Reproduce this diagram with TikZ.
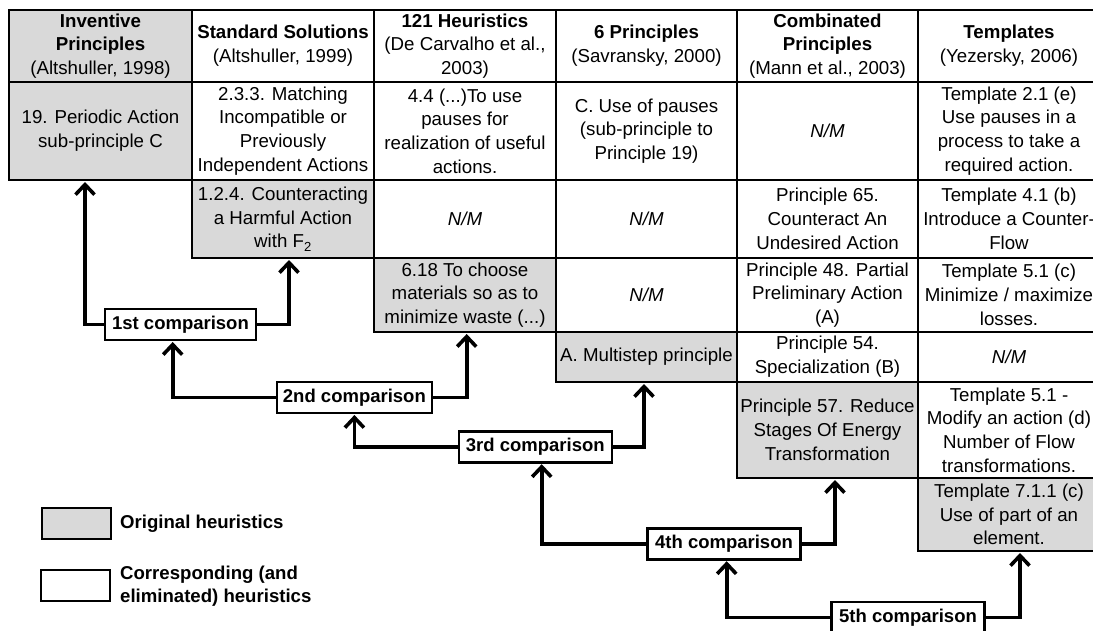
\documentclass[tikz,border=0pt]{standalone}
\usepackage{fontspec}
\setmainfont{Liberation Sans}
\usetikzlibrary{arrows.meta}
\definecolor{cellgray}{RGB}{217,217,217}
\newcommand\bodyfnt{\fontsize{18.7}{23.7}\selectfont}
\newcommand\cmpfnt{\fontsize{18.5}{22}\selectfont\bfseries}
\begin{document}
\begin{tikzpicture}[x=1pt,y=-1pt,
  cell/.style={draw=black, line width=1.3pt, anchor=north west, inner sep=0pt, outer sep=0pt, align=center, font=\bodyfnt},
  hcell/.style={cell, line width=2pt},
  orig/.style={fill=cellgray},
  nm/.style={font=\bodyfnt\itshape},
  outline/.style={draw=black, line width=2.8pt, line join=miter},
  cmpbox/.style={draw=black, line width=2.6pt, fill=white, inner sep=0pt, outer sep=0pt, font=\cmpfnt, minimum height=31pt, minimum width=153pt},
  conn/.style={line width=3.6pt, -{Straight Barb[length=10pt,width=19pt]}, shorten >=2pt},
  legbox/.style={draw=black, line width=2.8pt, anchor=north west, inner sep=0pt, outer sep=0pt, minimum width=69pt, minimum height=31pt},
  legtext/.style={anchor=west, inner sep=0pt, align=left, font=\fontsize{18.6}{23}\selectfont\bfseries}
]
\useasboundingbox (0,0) rectangle (1093,630);
\clip (0,0) rectangle (1093,630);

% body rows
\node[cell, orig, minimum width=183, minimum height=98] (c11) at (9,82) {19. Periodic Action\\sub-principle C};
\node[cell, minimum width=182, minimum height=98] (c12) at (192,82) {2.3.3. Matching\\Incompatible or\\Previously\\Independent Actions};
\node[cell, minimum width=182, minimum height=98] (c13) at (374,82) {4.4 (...)To use\\pauses for\\realization of useful\\actions.};
\node[cell, minimum width=181, minimum height=98] (c14) at (556,82) {C. Use of pauses\\(sub-principle to\\Principle 19)};
\node[cell, nm, minimum width=181, minimum height=98] (c15) at (737,82) {N/M};
\node[cell, minimum width=182, minimum height=98] (c16) at (918,82) {Template 2.1 (e)\\Use pauses in a\\process to take a\\required action.};

\node[cell, orig, minimum width=182, minimum height=78] (c22) at (192,180) {1.2.4. Counteracting\\a Harmful Action\\with F\textsubscript{2}};
\node[cell, nm, minimum width=182, minimum height=78] (c23) at (374,180) {N/M};
\node[cell, nm, minimum width=181, minimum height=78] (c24) at (556,180) {N/M};
\node[cell, minimum width=181, minimum height=78] (c25) at (737,180) {Principle 65.\\Counteract An\\Undesired Action};
\node[cell, minimum width=182, minimum height=78] (c26) at (918,180) {Template 4.1 (b)\\Introduce a Counter-\\Flow};

\node[cell, orig, minimum width=182, minimum height=74] (c33) at (374,258) {6.18 To choose\\materials so as to\\minimize waste (...)};
\node[cell, nm, minimum width=181, minimum height=74] (c34) at (556,258) {N/M};
\node[cell, minimum width=181, minimum height=74] (c35) at (737,258) {Principle 48. Partial\\Preliminary Action\\(A)};
\node[cell, minimum width=182, minimum height=74] (c36) at (918,258) {Template 5.1 (c)\\Minimize / maximize\\losses.};

\node[cell, orig, minimum width=181, minimum height=50] (c44) at (556,332) {A. Multistep principle};
\node[cell, minimum width=181, minimum height=50] (c45) at (737,332) {Principle 54.\\Specialization (B)};
\node[cell, nm, minimum width=182, minimum height=50] (c46) at (918,332) {N/M};

\node[cell, orig, minimum width=181, minimum height=96] (c55) at (737,382) {Principle 57. Reduce\\Stages Of Energy\\Transformation};
\node[cell, minimum width=182, minimum height=96] (c56) at (918,382) {Template 5.1 -\\Modify an action (d)\\Number of Flow\\transformations.};

\node[cell, orig, minimum width=182, minimum height=73] (c66) at (918,478) {Template 7.1.1 (c)\\Use of part of an\\element.};

% header row
\node[hcell, orig, minimum width=183, minimum height=72] (h1) at (9,10) {\textbf{Inventive}\\\textbf{Principles}\\(Altshuller, 1998)};
\node[hcell, minimum width=182, minimum height=72] (h2) at (192,10) {\textbf{Standard Solutions}\\(Altshuller, 1999)};
\node[hcell, minimum width=182, minimum height=72] (h3) at (374,10) {\textbf{121 Heuristics}\\(De Carvalho et al.,\\2003)};
\node[hcell, minimum width=181, minimum height=72] (h4) at (556,10) {\textbf{6 Principles}\\(Savransky, 2000)};
\node[hcell, minimum width=181, minimum height=72] (h5) at (737,10) {\textbf{Combinated}\\\textbf{Principles}\\(Mann et al., 2003)};
\node[hcell, minimum width=182, minimum height=72] (h6) at (918,10) {\textbf{Templates}\\(Yezersky, 2006)};

% staircase outline
\draw[outline] (h6.north east) -- (h1.north west) -- (c11.south west)
  -- (c22.north west) -- (c22.south west) -- (c33.north west) -- (c33.south west)
  -- (c44.north west) -- (c44.south west) -- (c55.north west) -- (c55.south west)
  -- (c66.north west) -- (c66.south west) -- (c66.south east);

% comparison boxes
\node[cmpbox, minimum width=151] (cmp1) at (180.5,324.5) {1st comparison};
\node[cmpbox, minimum width=155] (cmp2) at (354.4,397.5) {2nd comparison};
\node[cmpbox] (cmp3) at (535.3,446.7) {3rd comparison};
\node[cmpbox] (cmp4) at (724,543.7) {4th comparison};
\node[cmpbox] (cmp5) at (908,617.5) {5th comparison};

% connectors
\draw[conn] (cmp1.west) -| ([xshift=-15.5pt]c11.south);
\draw[conn] (cmp1.east) -| ([xshift=6pt]c22.south);
\draw[conn] (cmp2.west) -| ([xshift=-7.8pt]cmp1.south);
\draw[conn] (cmp2.east) -| ([xshift=1.7pt]c33.south);
\draw[conn] (cmp3.west) -| (cmp2.south);
\draw[conn] (cmp3.east) -| ([xshift=-2.5pt]c44.south);
\draw[conn] (cmp4.west) -| ([xshift=6.4pt]cmp3.south);
\draw[conn] (cmp4.east) -| ([xshift=7.5pt]c55.south);
\draw[conn] (cmp5.west) -| ([xshift=2.7pt]cmp4.south);
\draw[conn] (cmp5.east) -| ([xshift=11pt]c66.south);

% legend
\node[legbox, fill=cellgray] (leg1) at (42,508) {};
\node[legtext] (leg1t) at (120,524) {Original heuristics};
\node[legbox, fill=white] (leg2) at (41,570) {};
\node[legtext] (leg2t) at (120,586.5) {Corresponding (and\\eliminated) heuristics};
\end{tikzpicture}
\end{document}
